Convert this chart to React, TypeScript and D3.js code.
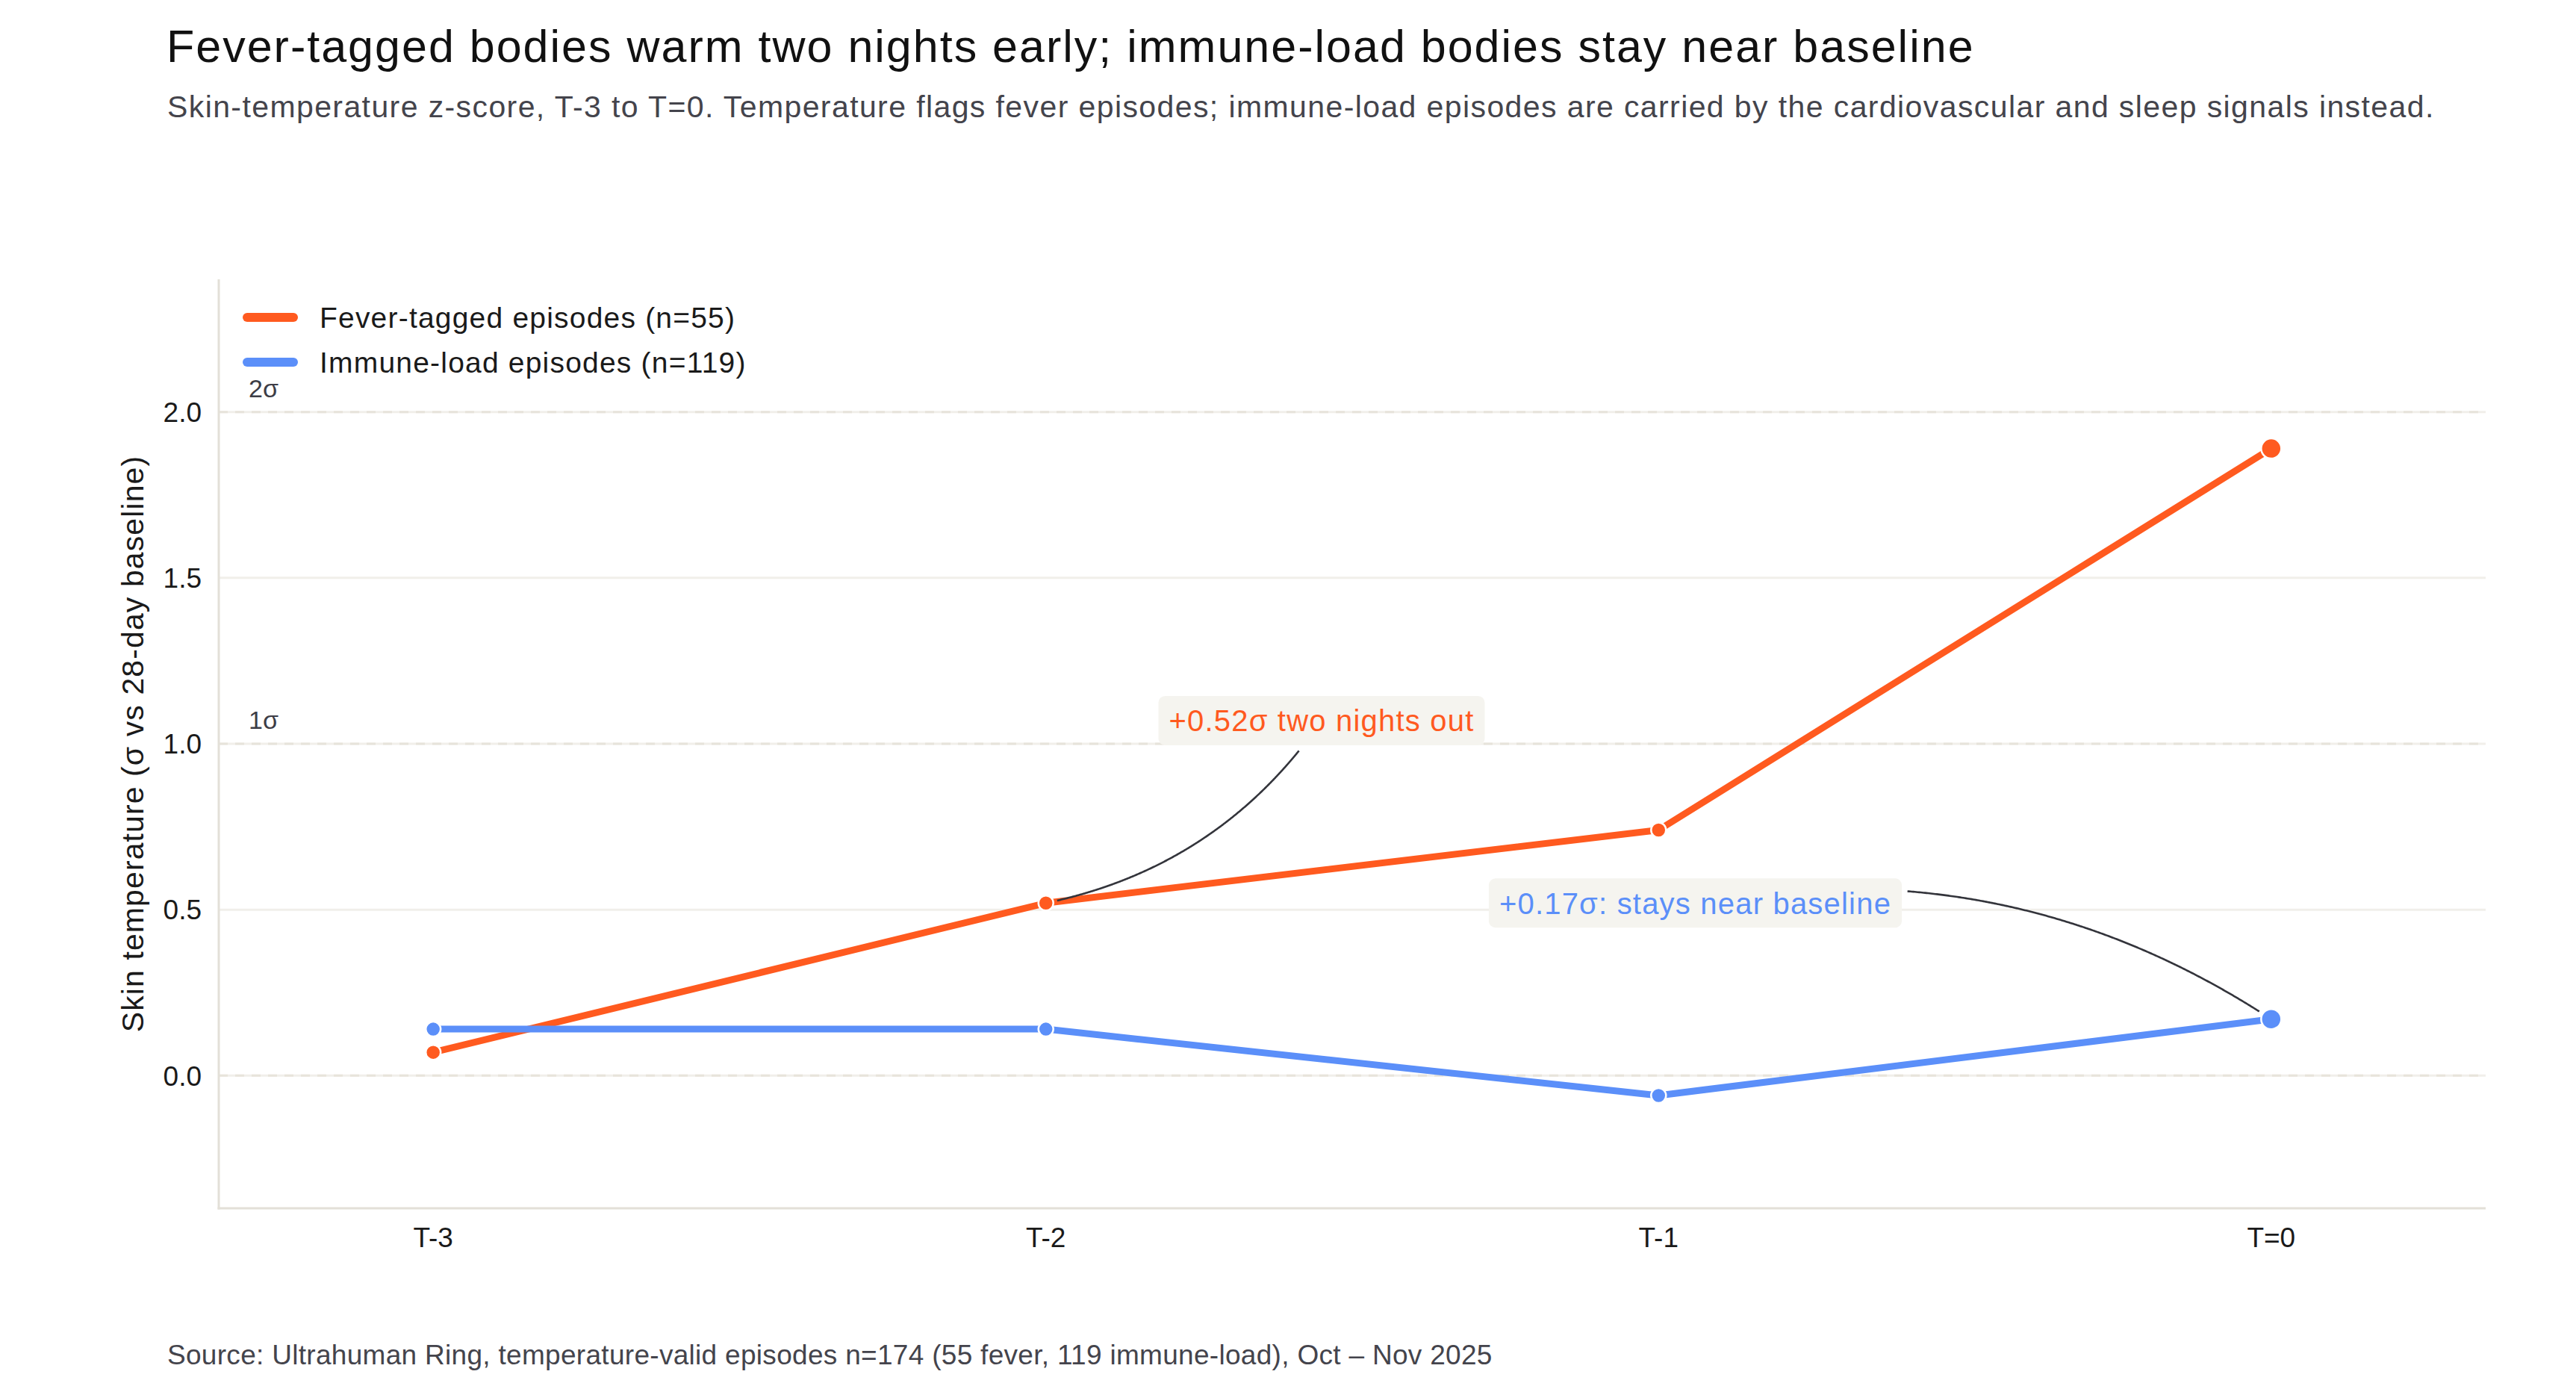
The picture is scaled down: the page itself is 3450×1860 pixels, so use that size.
import { useEffect, useRef } from 'react';
import * as d3 from 'd3';

const W = 3450;
const H = 1860;
const FONT = "'Liberation Sans', Arial, Helvetica, sans-serif";

const ORANGE = '#ff5a1f';
const BLUE = '#5b8ff9';

// values
const CATEGORIES = ['T-3', 'T-2', 'T-1', 'T=0'];
const FEVER = [0.07, 0.52, 0.74, 1.89];
const IMMUNE = [0.14, 0.14, -0.06, 0.17];
const Y_TICKS = [0, 0.5, 1, 1.5, 2];
const SIGMA_LINES = [0, 1, 2];
const SIGMA_LABELS = [
  { v: 1, label: '1σ' },
  { v: 2, label: '2σ' },
];

const SERIES = [
  { name: 'Fever-tagged episodes (n=55)', values: FEVER, color: ORANGE },
  { name: 'Immune-load episodes (n=119)', values: IMMUNE, color: BLUE },
];

// text centre (x in category index, y in sigma), target point
const ANNOTATIONS = [
  { text: '+0.52σ two nights out', tx: 1.45, ty: 1.07, px: 1, py: FEVER[1], color: ORANGE, rTarget: 10 },
  { text: '+0.17σ: stays near baseline', tx: 2.06, ty: 0.52, px: 3, py: IMMUNE[3], color: BLUE, rTarget: 14 },
];

export default function App() {
  const svgRef = useRef<SVGSVGElement>(null);

  useEffect(() => {
    const svg = d3.select(svgRef.current);
    if (!svg.node()) return;
    svg.selectAll('*').remove();

    const margin = { top: 374, right: 121, bottom: 242, left: 293 };
    const x = d3.scaleLinear().domain([-0.35, 3.35]).range([margin.left, W - margin.right]);
    const y = d3.scaleLinear().domain([-0.4, 2.4]).range([H - margin.bottom, margin.top]);

    const g = svg.append('g').attr('font-family', FONT);

    // title block
    g.append('text').attr('x', 223).attr('y', 83).attr('font-size', 61).attr('letter-spacing', 2)
      .attr('fill', '#111')
      .text('Fever-tagged bodies warm two nights early; immune-load bodies stay near baseline');
    g.append('text').attr('x', 224).attr('y', 157).attr('font-size', 41).attr('letter-spacing', 1.4)
      .attr('fill', '#44444c')
      .text('Skin-temperature z-score, T-3 to T=0. Temperature flags fever episodes; immune-load episodes are carried by the cardiovascular and sleep signals instead.');

    // grid
    g.append('g').selectAll('line').data(Y_TICKS).join('line')
      .attr('x1', x.range()[0]).attr('x2', x.range()[1])
      .attr('y1', (d) => y(d)).attr('y2', (d) => y(d))
      .attr('stroke', '#f1efea').attr('stroke-width', 3);
    g.append('g').selectAll('line').data(SIGMA_LINES).join('line')
      .attr('x1', x.range()[0]).attr('x2', x.range()[1])
      .attr('y1', (d) => y(d)).attr('y2', (d) => y(d))
      .attr('stroke', '#e7e4db').attr('stroke-width', 3).attr('stroke-dasharray', '12 10');
    g.append('g').selectAll('text').data(SIGMA_LABELS).join('text')
      .attr('x', 333).attr('y', (d) => y(d.v) - 20)
      .attr('font-size', 34).attr('fill', '#3d3d46').text((d) => d.label);

    // spines
    g.append('line').attr('x1', x.range()[0]).attr('x2', x.range()[0])
      .attr('y1', y.range()[1]).attr('y2', y.range()[0] + 1.5)
      .attr('stroke', '#e3e0d8').attr('stroke-width', 3);
    g.append('line').attr('x1', x.range()[0] - 1.5).attr('x2', x.range()[1])
      .attr('y1', y.range()[0]).attr('y2', y.range()[0])
      .attr('stroke', '#e3e0d8').attr('stroke-width', 3);

    // y tick labels
    g.append('g').selectAll('text').data(Y_TICKS).join('text')
      .attr('x', 270).attr('y', (d) => y(d)).attr('dy', '0.36em')
      .attr('text-anchor', 'end').attr('font-size', 37).attr('fill', '#1a1a1a')
      .text((d) => d3.format('.1f')(d));

    // x tick labels
    g.append('g').selectAll('text').data(CATEGORIES).join('text')
      .attr('x', (_, i) => x(i)).attr('y', 1670)
      .attr('text-anchor', 'middle').attr('font-size', 37).attr('fill', '#1a1a1a')
      .text((d) => d);

    // y axis title
    g.append('text')
      .attr('transform', `translate(192,${(y.range()[0] + y.range()[1]) / 2}) rotate(-90)`)
      .attr('text-anchor', 'middle').attr('font-size', 41).attr('letter-spacing', 1.1)
      .attr('fill', '#1a1a1a')
      .text('Skin temperature (σ vs 28-day baseline)');

    // series
    const line = d3.line<number>().x((_, i) => x(i)).y((d) => y(d));
    SERIES.forEach((s) => {
      g.append('path').datum(s.values)
        .attr('fill', 'none').attr('stroke', s.color).attr('stroke-width', 9)
        .attr('stroke-linejoin', 'round').attr('d', line);
      g.append('g').selectAll('circle').data(s.values).join('circle')
        .attr('cx', (_, i) => x(i)).attr('cy', (d) => y(d))
        .attr('r', (_, i) => (i === s.values.length - 1 ? 13.5 : 10))
        .attr('fill', s.color).attr('stroke', '#fff').attr('stroke-width', 2.5);
    });

    // annotations
    ANNOTATIONS.forEach((a) => {
      const cx = x(a.tx);
      const cy = y(a.ty);
      const grp = g.append('g');
      const rect = grp.append('rect');
      const txt = grp.append('text').attr('x', cx).attr('y', cy).attr('dy', '0.36em')
        .attr('text-anchor', 'middle').attr('font-size', 40).attr('letter-spacing', 1.2)
        .attr('fill', a.color).text(a.text);
      const bb = (txt.node() as SVGTextElement).getBBox();
      const padX = 14;
      const box = { x0: bb.x - padX, x1: bb.x + bb.width + padX, y0: cy - 33, y1: cy + 33 };
      rect.attr('x', box.x0).attr('y', box.y0).attr('width', box.x1 - box.x0).attr('height', box.y1 - box.y0)
        .attr('rx', 9).attr('fill', '#f5f4ef');

      // arc3-style quadratic from text centre to the point, clipped to box and marker
      const px = x(a.px);
      const py = y(a.py);
      const dx = px - cx;
      const dy = py - cy;
      const rad = 0.2;
      const ctrl = [(cx + px) / 2 + rad * dy, (cy + py) / 2 - rad * dx];
      const pts: [number, number][] = [];
      const shrinkA = 7;
      for (let k = 0; k <= 400; k++) {
        const t = k / 400;
        const qx = (1 - t) * (1 - t) * cx + 2 * t * (1 - t) * ctrl[0] + t * t * px;
        const qy = (1 - t) * (1 - t) * cy + 2 * t * (1 - t) * ctrl[1] + t * t * py;
        const inBox = qx > box.x0 - shrinkA && qx < box.x1 + shrinkA && qy > box.y0 - shrinkA && qy < box.y1 + shrinkA;
        const nearPt = Math.hypot(qx - px, qy - py) < a.rTarget + 5;
        if (!inBox && !nearPt) pts.push([qx, qy]);
      }
      grp.append('path').attr('d', d3.line()(pts))
        .attr('fill', 'none').attr('stroke', '#33343b').attr('stroke-width', 2.6);
    });

    // legend
    SERIES.forEach((s, i) => {
      const ly = 425 + i * 60;
      g.append('line').attr('x1', 331).attr('x2', 393).attr('y1', ly).attr('y2', ly)
        .attr('stroke', s.color).attr('stroke-width', 12).attr('stroke-linecap', 'round');
      g.append('text').attr('x', 428).attr('y', ly + 14).attr('font-size', 39).attr('letter-spacing', 1.2)
        .attr('fill', '#1a1a1a').text(s.name);
    });

    // source
    g.append('text').attr('x', 224).attr('y', 1827).attr('font-size', 37).attr('letter-spacing', 0.3)
      .attr('fill', '#44444c')
      .text('Source: Ultrahuman Ring, temperature-valid episodes n=174 (55 fever, 119 immune-load), Oct – Nov 2025');
  }, []);

  return (
    <>
      <style>{'body{margin:0;background:#fff}'}</style>
      <svg ref={svgRef} width={W} height={H} style={{ display: 'block', background: '#fff' }} />
    </>
  );
}
